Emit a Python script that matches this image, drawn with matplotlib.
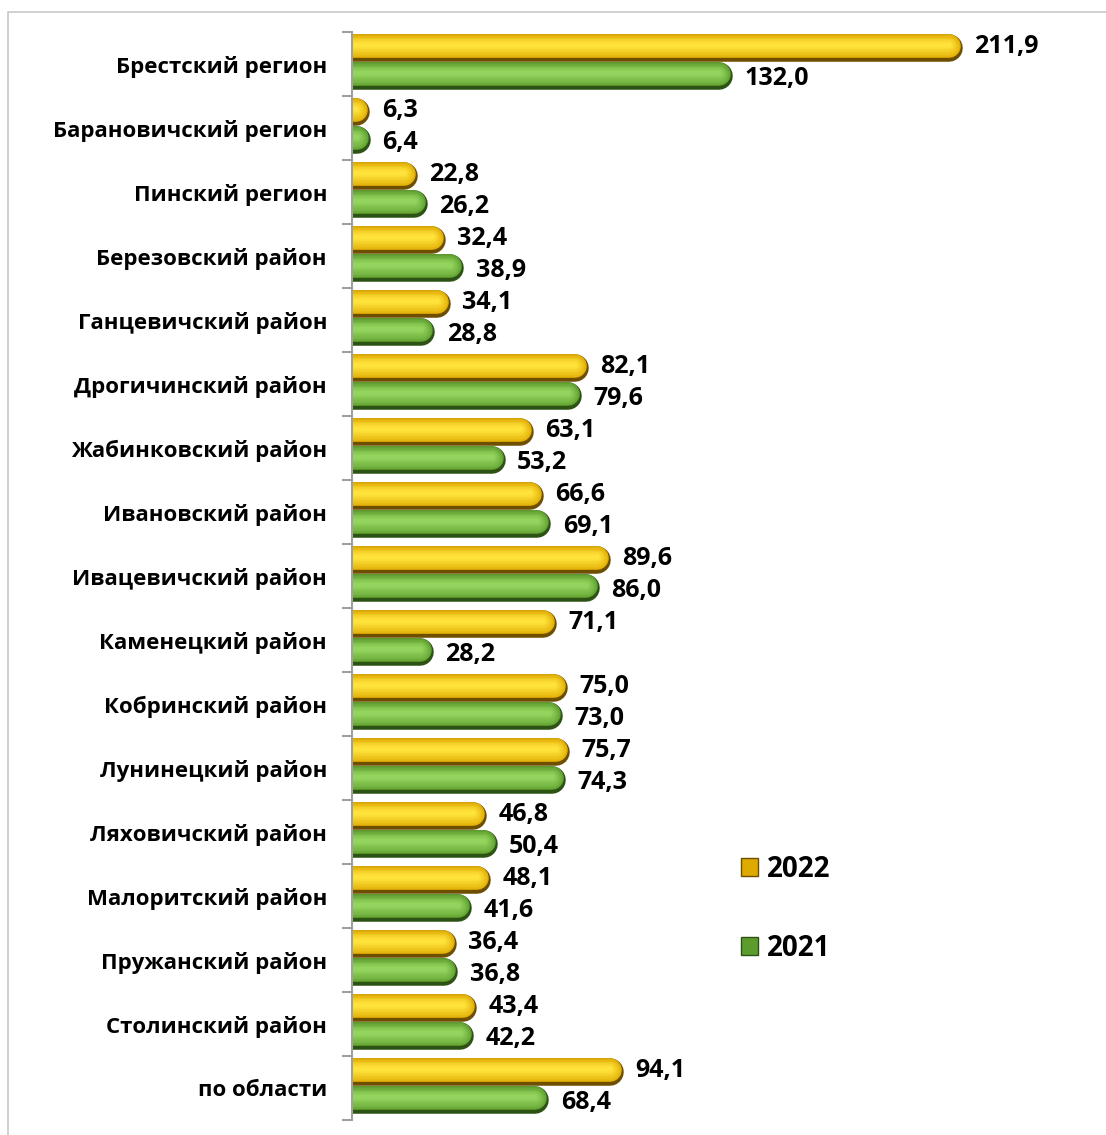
import matplotlib
matplotlib.use('Agg')
import matplotlib.pyplot as plt
import numpy as np
from matplotlib.colors import to_rgb
from matplotlib.patches import Rectangle, Patch

plt.rcParams['font.family'] = ['Open Sans', 'DejaVu Sans']
plt.rcParams['font.weight'] = 'bold'

# data
regions = ['Брестский регион', 'Барановичский регион', 'Пинский регион',
           'Березовский район', 'Ганцевичский район', 'Дрогичинский район',
           'Жабинковский район', 'Ивановский район', 'Ивацевичский район',
           'Каменецкий район', 'Кобринский район', 'Лунинецкий район',
           'Ляховичский район', 'Малоритский район', 'Пружанский район',
           'Столинский район', 'по области']
v2022 = [211.9, 6.3, 22.8, 32.4, 34.1, 82.1, 63.1, 66.6, 89.6,
         71.1, 75.0, 75.7, 46.8, 48.1, 36.4, 43.4, 94.1]
v2021 = [132.0, 6.4, 26.2, 38.9, 28.8, 79.6, 53.2, 69.1, 86.0,
         28.2, 73.0, 74.3, 50.4, 41.6, 36.8, 42.2, 68.4]
years = ['2022', '2021']

# colours: dark bottom edge, base, highlight
yellow = ['#6e4f00', '#deaa00', '#ffe23a']
green = ['#2c5214', '#5c9c2c', '#93d45e']

W, H, DPI = 1106, 1135, 100
fig = plt.figure(figsize=(W / DPI, H / DPI), dpi=DPI)
ax = fig.add_axes([352 / W, 1 - 1120 / H, (1090 - 352) / W, (1120 - 32) / H])

n = len(regions)
xmax = 256
ax.set_xlim(0, xmax)
ax.set_ylim(n - 0.5, -0.5)

thick = 0.43          # bar thickness in group units
offs = [-0.25, 0.19]  # yellow above, green below

# pixel sizes for the round-capped lines
ax_h_px = (1120 - 32)
ax_w_px = (1090 - 352)
bar_px = thick * ax_h_px / n
lw_pt = bar_px * 72 / DPI
r_data = (bar_px / 2) / (ax_w_px / xmax)


def mix(a, b, t):
    a, b = np.array(to_rgb(a)), np.array(to_rgb(b))
    return a + (b - a) * t


def pill_bars(vals, yoff, cols):
    y = np.arange(n) + yoff
    ends = np.array(vals) - r_data
    # dark body first
    ax.hlines(y, -r_data, ends, colors=[cols[0]], linewidth=lw_pt,
              capstyle='round', zorder=2)
    # lighter layers, top edges rising toward a highlight a bit above centre
    N = 16
    for k in range(N):
        t = k / (N - 1)
        top = 0.0 + 0.30 * t          # fraction of bar from top
        bot = 0.86 - 0.40 * t
        w = bot - top
        yc = top + w / 2 - 0.5        # centre shift, fraction of bar
        c = mix(cols[1], cols[2], t ** 0.8)
        ax.hlines(y + yc * thick, -r_data, ends, colors=[c],
                  linewidth=lw_pt * w, capstyle='round', zorder=2.01 + k * 0.01)


pill_bars(v2022, offs[0], yellow)
pill_bars(v2021, offs[1], green)

# value labels
for i in range(n):
    ax.text(v2022[i] + 4, i + offs[0] - 0.02, f'{v2022[i]:.1f}'.replace('.', ','),
            va='center', ha='left', fontsize=18, fontweight='bold')
    ax.text(v2021[i] + 4, i + offs[1] + 0.03, f'{v2021[i]:.1f}'.replace('.', ','),
            va='center', ha='left', fontsize=18, fontweight='bold')

# axes styling
for s in ['top', 'right', 'bottom']:
    ax.spines[s].set_visible(False)
ax.spines['left'].set_color('#a0a0a0')
ax.spines['left'].set_linewidth(1.5)
ax.set_xticks([])
ax.set_yticks(np.arange(n))
ax.set_yticklabels(regions, fontsize=16, fontweight='bold')
ax.set_yticks(np.arange(n + 1) - 0.5, minor=True)
ax.tick_params(axis='y', which='major', length=0, pad=18)
ax.tick_params(axis='y', which='minor', length=7, color='#a0a0a0', width=1.5)

# legend
handles = [Patch(facecolor=yellow[1], edgecolor=yellow[0]),
           Patch(facecolor=green[1], edgecolor=green[0])]
fig.legend(handles, years, loc='center left', bbox_to_anchor=(716 / W, 1 - 909 / H),
           frameon=False, handlelength=0.62, handleheight=0.62,
           handletextpad=0.3, labelspacing=1.8, prop={'weight': 'bold', 'size': 20})

# thin outer frame
fig.add_artist(Rectangle((8 / W, -0.1), 1.2, 1 - 12.5 / H + 0.1, transform=fig.transFigure,
                         fill=False, edgecolor='#c8c8c8', linewidth=1.2))

fig.savefig('out.png', dpi=DPI)
